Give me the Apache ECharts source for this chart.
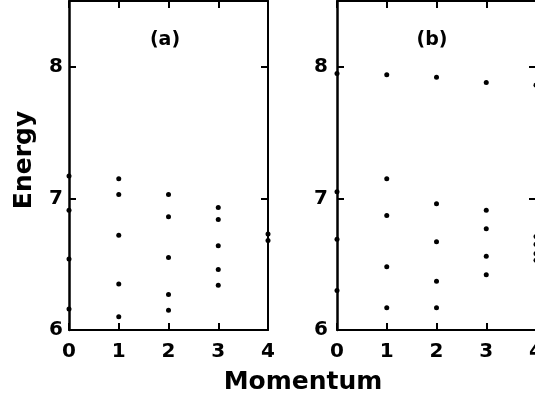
<!DOCTYPE html>
<html>
<head>
<meta charset="utf-8">
<script src="https://cdn.jsdelivr.net/npm/echarts@6/dist/echarts.min.js"></script>
<style>html,body{margin:0;padding:0;background:#fff;}#c{width:535px;height:400px;}</style>
</head>
<body>
<div id="c"></div>
<script>
// Tick labels
var momentumTicks = [0, 1, 2, 3, 4];
var energyTicks = [6, 7, 8];

// Panel (a): energies at each momentum value
var aK0 = [7.17, 6.91, 6.54, 6.16];
var aK1 = [7.15, 7.03, 6.72, 6.35, 6.10];
var aK2 = [7.03, 6.86, 6.55, 6.27, 6.15];
var aK3 = [6.93, 6.84, 6.64, 6.46, 6.34];
var aK4 = [6.73, 6.68];

// Panel (b): energies at each momentum value
var bK0 = [7.95, 7.05, 6.69, 6.30];
var bK1 = [7.94, 7.15, 6.87, 6.48, 6.17];
var bK2 = [7.92, 6.96, 6.67, 6.37, 6.17];
var bK3 = [7.88, 6.91, 6.77, 6.56, 6.42];
var bK4 = [7.86, 6.71, 6.65, 6.58, 6.53];

function pts(lists) {
  var out = [];
  lists.forEach(function (arr, k) {
    arr.forEach(function (e) { out.push([momentumTicks[k], e]); });
  });
  return out;
}
var dataA = pts([aK0, aK1, aK2, aK3, aK4]);
var dataB = pts([bK0, bK1, bK2, bK3, bK4]);

var FONT = 'DejaVu Sans';
var lineStyle = { color: '#000', width: 2 };
var tickStyle = { show: true, inside: true, length: 7, lineStyle: { color: '#000', width: 2 } };

function xAxes(gi) {
  return [
    { gridIndex: gi, type: 'value', min: 0, max: 4, interval: 1, position: 'bottom',
      axisLine: { show: true, onZero: false, lineStyle: lineStyle },
      axisTick: tickStyle, splitLine: { show: false },
      axisLabel: { color: '#000', fontFamily: FONT, fontSize: 20, fontWeight: 'bold', margin: 12 } },
    { gridIndex: gi, type: 'value', min: 0, max: 4, interval: 1, position: 'top',
      axisLine: { show: true, onZero: false, lineStyle: lineStyle },
      axisTick: tickStyle, splitLine: { show: false }, axisLabel: { show: false } }
  ];
}
function yAxes(gi, margin) {
  return [
    { gridIndex: gi, type: 'value', min: 6, max: 8.5, interval: 1, position: 'left',
      axisLine: { show: true, onZero: false, lineStyle: { color: '#000', width: 2.5 } },
      axisTick: tickStyle, splitLine: { show: false },
      axisLabel: { color: '#000', fontFamily: FONT, fontSize: 20, fontWeight: 'bold', margin: margin, showMaxLabel: false } },
    { gridIndex: gi, type: 'value', min: 6, max: 8.5, interval: 1, position: 'right',
      axisLine: { show: true, onZero: false, lineStyle: lineStyle },
      axisTick: tickStyle, splitLine: { show: false }, axisLabel: { show: false } }
  ];
}

var chart = echarts.init(document.getElementById('c'), null, { renderer: 'canvas' });
chart.setOption({
  animation: false,
  backgroundColor: '#fff',
  grid: [
    { left: 69, top: 1, width: 199, height: 329, outerBoundsMode: 'none', containLabel: false },
    { left: 337, top: 1, width: 199, height: 329, outerBoundsMode: 'none', containLabel: false }
  ],
  xAxis: xAxes(0).concat(xAxes(1)),
  yAxis: yAxes(0, 6).concat(yAxes(1, 9)),
  series: [
    { type: 'scatter', xAxisIndex: 0, yAxisIndex: 0, data: dataA, symbolSize: 5, clip: false,
      itemStyle: { color: '#000', opacity: 1 } },
    { type: 'scatter', xAxisIndex: 2, yAxisIndex: 2, data: dataB, symbolSize: 5, clip: false,
      itemStyle: { color: '#000', opacity: 1 } }
  ],
  graphic: [
    { type: 'text', x: 24, y: 160, rotation: Math.PI / 2,
      style: { text: 'Energy', fill: '#000', font: 'bold 25px "DejaVu Sans"', textAlign: 'center', textVerticalAlign: 'middle' } },
    { type: 'text', x: 303, y: 382,
      style: { text: 'Momentum', fill: '#000', font: 'bold 25px "DejaVu Sans"', textAlign: 'center', textVerticalAlign: 'middle' } },
    { type: 'text', x: 165, y: 40,
      style: { text: '(a)', fill: '#000', font: 'bold 19px "DejaVu Sans"', textAlign: 'center', textVerticalAlign: 'middle' } },
    { type: 'text', x: 432, y: 40,
      style: { text: '(b)', fill: '#000', font: 'bold 19px "DejaVu Sans"', textAlign: 'center', textVerticalAlign: 'middle' } }
  ]
});
</script>
</body>
</html>
